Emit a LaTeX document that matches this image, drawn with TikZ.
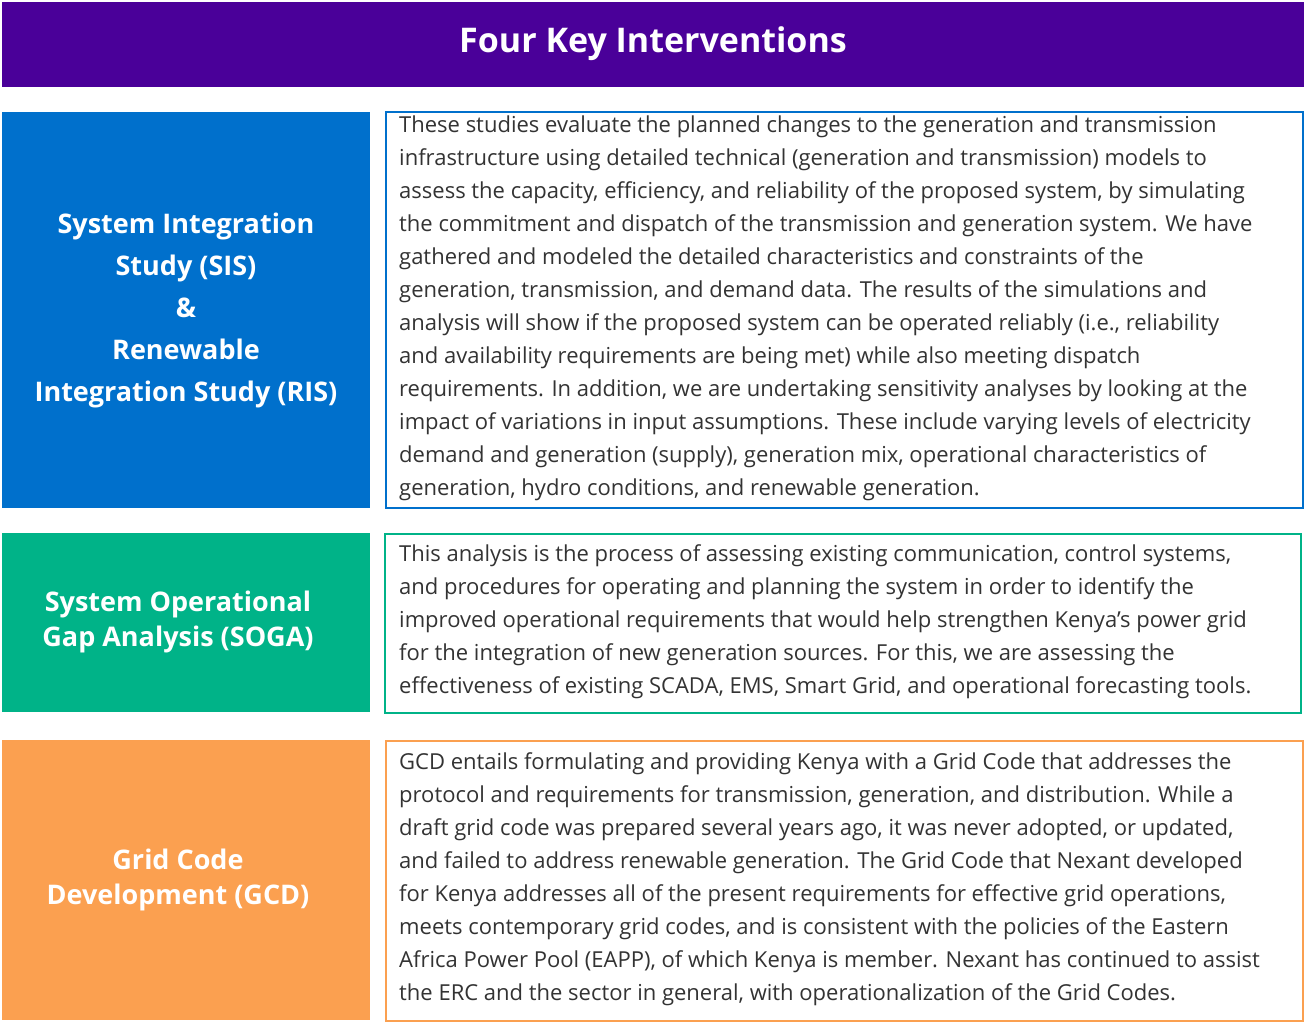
\documentclass[tikz,border=0pt]{standalone}
\usepackage{fontspec}
\setmainfont{Open Sans}
\definecolor{titlec}{HTML}{4A0099}
\definecolor{sisc}{HTML}{0070CC}
\definecolor{sogac}{HTML}{00B388}
\definecolor{gcdc}{HTML}{FBA050}
\definecolor{txt}{HTML}{333333}
\tikzset{
 lab/.style={fill=#1, draw=none},
 desc/.style={draw=#1, line width=2.5pt, fill=white},
 body/.style={anchor=north west, inner sep=0pt, align=left, text=txt, font=\fontsize{22}{33}\selectfont},
 head/.style={text=white, align=center, font=\bfseries\fontsize{27}{35}\selectfont}
}
\begin{document}
\begin{tikzpicture}[x=1pt,y=-1pt]
\useasboundingbox (0,0) rectangle (1306,1023);
\fill[white] (0,0) rectangle (1306,1023);
\fill[titlec] (2,2) rectangle (1304,87);
\node[text=white, font=\bfseries\fontsize{34}{40}\selectfont] (title) at (653,44) {Four Key Interventions};
% SIS
\fill[sisc] (2,112) rectangle (370,508);
\draw[desc=sisc] (386,112) rectangle (1303,508);
\node[head, font=\bfseries\fontsize{27}{42}\selectfont] (sis) at (186,310) {System Integration\\Study (SIS)\\\&\\Renewable\\Integration Study (RIS)};
\node[body] (sist) at (399,116) {These studies evaluate the planned changes to the generation and transmission\\
infrastructure using detailed technical (generation and transmission) models to\\
assess the capacity, efficiency, and reliability of the proposed system, by simulating\\
the commitment and dispatch of the transmission and generation system. We have\\
gathered and modeled the detailed characteristics and constraints of the\\
generation, transmission, and demand data. The results of the simulations and\\
analysis will show if the proposed system can be operated reliably (i.e., reliability\\
and availability requirements are being met) while also meeting dispatch\\
requirements. In addition, we are undertaking sensitivity analyses by looking at the\\
impact of variations in input assumptions. These include varying levels of electricity\\
demand and generation (supply), generation mix, operational characteristics of\\
generation, hydro conditions, and renewable generation.};
% SOGA
\fill[sogac] (2,533) rectangle (370,712);
\draw[desc=sogac] (385,534) rectangle (1301,713);
\node[head] (soga) at (178,622) {System Operational\\Gap Analysis (SOGA)};
\node[body] (sogat) at (399,544) {This analysis is the process of assessing existing communication, control systems,\\
and procedures for operating and planning the system in order to identify the\\
improved operational requirements that would help strengthen Kenya’s power grid\\
for the integration of new generation sources. For this, we are assessing the\\
effectiveness of existing SCADA, EMS, Smart Grid, and operational forecasting tools.};
% GCD
\fill[gcdc] (2,740) rectangle (370,1020);
\draw[desc=gcdc] (386,741) rectangle (1303,1021);
\node[head] (gcd) at (178,880) {Grid Code\\Development (GCD)};
\node[body] (gcdt) at (399,752) {GCD entails formulating and providing Kenya with a Grid Code that addresses the\\
protocol and requirements for transmission, generation, and distribution. While a\\
draft grid code was prepared several years ago, it was never adopted, or updated,\\
and failed to address renewable generation. The Grid Code that Nexant developed\\
for Kenya addresses all of the present requirements for effective grid operations,\\
meets contemporary grid codes, and is consistent with the policies of the Eastern\\
Africa Power Pool (EAPP), of which Kenya is member. Nexant has continued to assist\\
the ERC and the sector in general, with operationalization of the Grid Codes.};
\end{tikzpicture}
\end{document}
